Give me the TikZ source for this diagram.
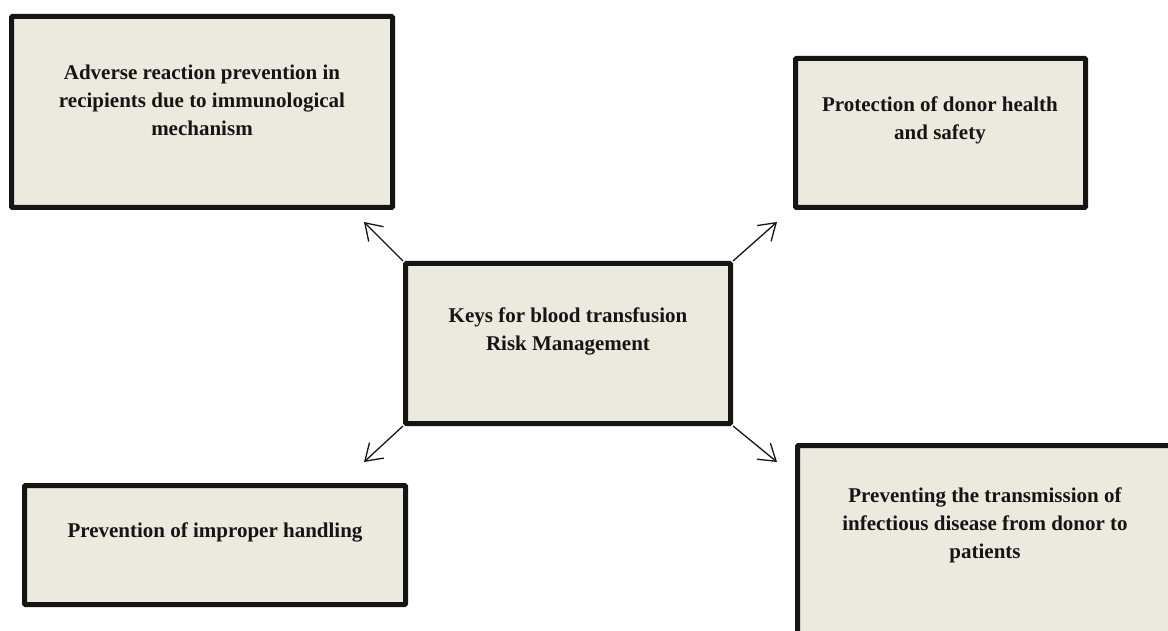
\documentclass[tikz,border=0pt]{standalone}
\usepackage{fontspec}
\setmainfont{Liberation Serif}
\usetikzlibrary{arrows.meta}
\definecolor{boxfill}{HTML}{ECE9DF}
\definecolor{ink}{HTML}{151515}
\tikzset{
  keybox/.style={draw=ink, fill=boxfill, line width=5pt, rounded corners=1pt, inner sep=0pt},
  keytext/.style={text=ink, font=\fontsize{21}{28}\selectfont\bfseries, align=center, inner sep=0pt},
  keyarrow/.style={draw=ink, line width=1.3pt, -{Straight Barb[length=16pt,width=21pt,line width=1.3pt]}}
}
\begin{document}
\begin{tikzpicture}[x=1pt,y=-1pt]
\useasboundingbox (0,0) rectangle (1168,631);
\clip (0,0) rectangle (1168,631);
% boxes
\node[keybox, minimum width=381pt, minimum height=191pt] (tl) at (202,112) {};
\node[keybox, minimum width=290pt, minimum height=149pt] (tr) at (940.5,133) {};
\node[keybox, minimum width=325pt, minimum height=160pt] (c) at (568,343.5) {};
\node[keybox, minimum width=381pt, minimum height=119pt] (bl) at (215,545) {};
\node[keybox, minimum width=395pt, minimum height=215pt] (br) at (995,553) {};
% texts
\node[keytext] (tlt) at (202,100) {Adverse reaction prevention in\\recipients due to immunological\\mechanism};
\node[keytext] (trt) at (940,120.5) {Protection of donor health\\and safety};
\node[keytext] (ct) at (568,331) {Keys for blood transfusion\\Risk Management};
\node[keytext] (blt) at (215,532) {Prevention of improper handling};
\node[keytext] (brt) at (985,525.5) {Preventing the transmission of\\infectious disease from donor to\\patients};
% arrow ends
\coordinate (atl) at (364,222);
\coordinate (atr) at (777,222);
\coordinate (abl) at (364,462);
\coordinate (abr) at (777,462);
\draw[keyarrow] (c.north west) -- (atl);
\draw[keyarrow] (c.north east) -- (atr);
\draw[keyarrow] (c.south west) -- (abl);
\draw[keyarrow] (c.south east) -- (abr);
\end{tikzpicture}
\end{document}
